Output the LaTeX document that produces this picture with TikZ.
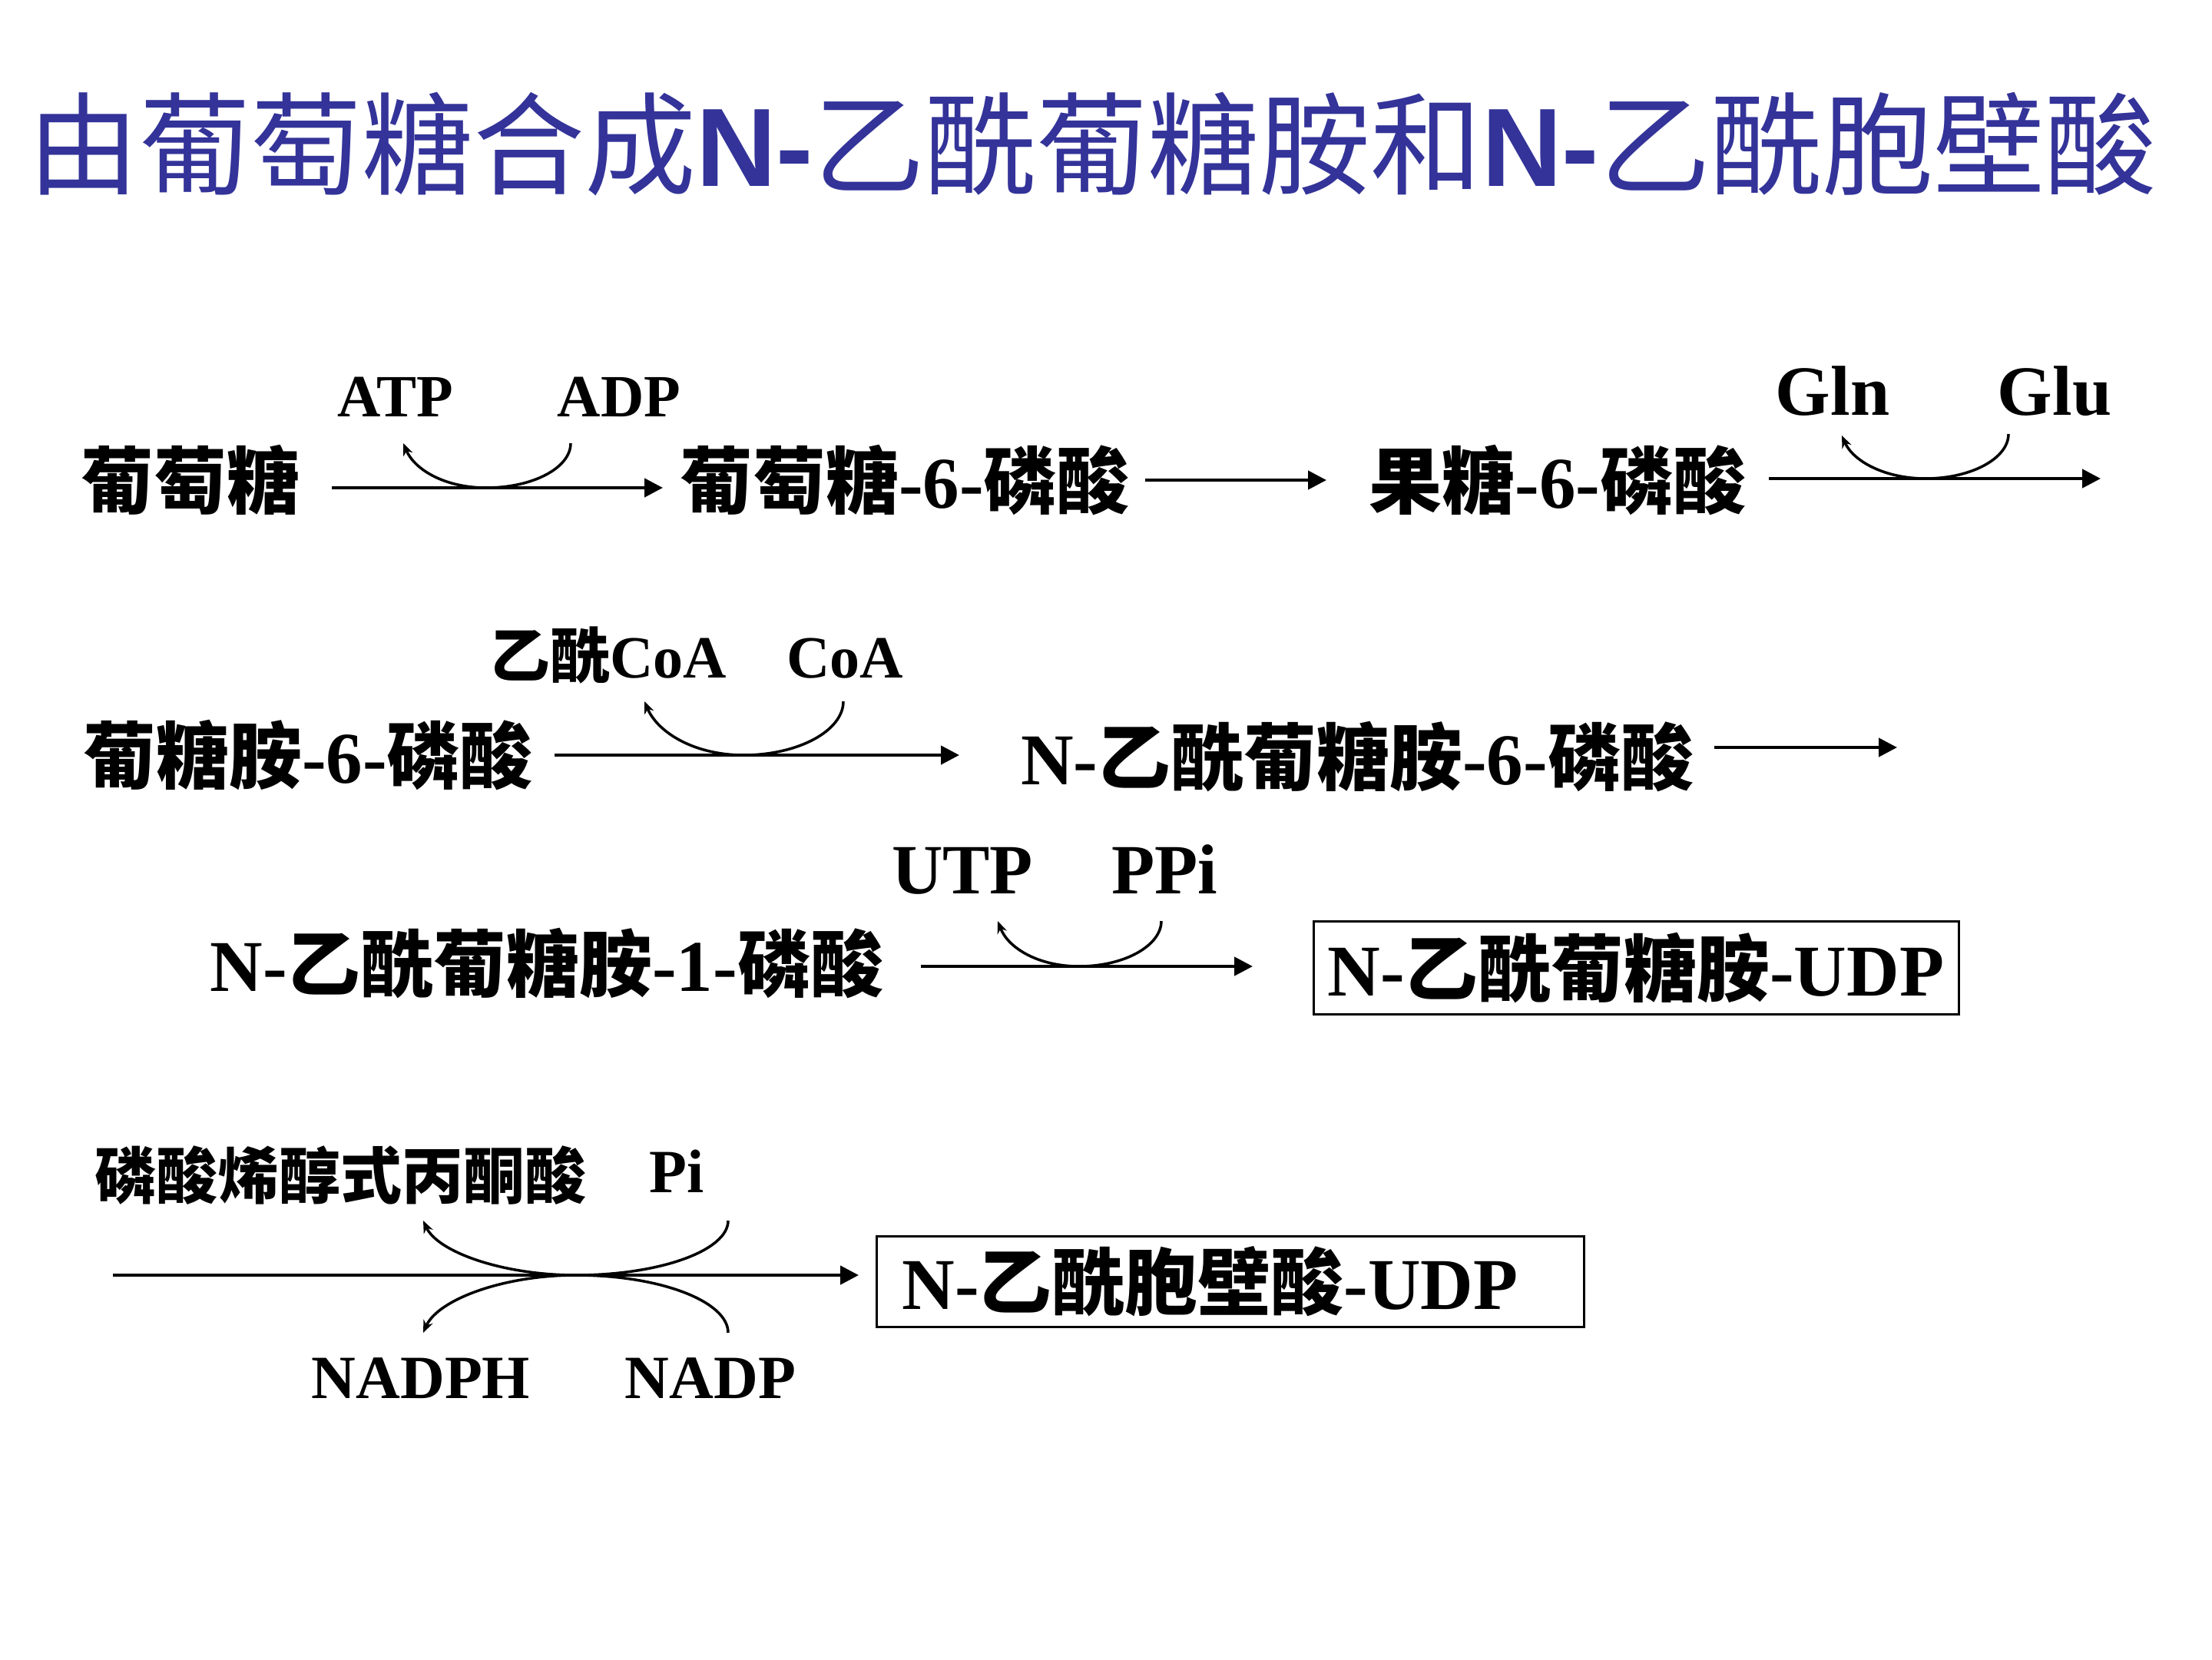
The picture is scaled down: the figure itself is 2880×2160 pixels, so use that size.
\documentclass[tikz,border=0pt]{standalone}
\usepackage{fontspec}
\setmainfont{Liberation Serif}[BoldFont={Liberation Serif Bold}]
\newfontfamily\latb{Liberation Serif Bold}
\newfontfamily\cjk{Noto Sans CJK SC}
\newfontfamily\titlelat{Liberation Sans Bold}
\newcommand\zh[1]{{\cjk\bfseries #1}}
\newcommand\zhtitle[1]{{\cjk #1}}
\usetikzlibrary{arrows.meta}
\definecolor{titleblue}{RGB}{51,51,153}
\tikzset{
  body/.style={inner sep=0pt, font=\fontsize{95}{100}\selectfont\latb},
  labA/.style={inner sep=0pt, anchor=base, font=\fontsize{78}{80}\selectfont\latb},
  labB/.style={inner sep=0pt, anchor=base, font=\fontsize{92}{96}\selectfont\latb},
  labC/.style={inner sep=0pt, anchor=base, font=\fontsize{80}{84}\selectfont\latb},
  pepfont/.style={inner sep=0pt, font=\fontsize{80}{84}\selectfont\latb},
  rxn/.style={line width=4.5pt, -{Triangle[length=24pt,width=24pt]}},
  cof/.style={line width=3.5pt, -{Stealth[length=16pt,width=13pt]}},
  prodbox/.style={draw, line width=3pt, inner sep=0pt, font=\fontsize{95}{100}\selectfont\latb}
}
\begin{document}
\begin{tikzpicture}[x=1pt,y=-1pt]
\useasboundingbox (0,0) rectangle (2880,2160);
% title
\node[inner sep=0pt, anchor=west, text=titleblue, font=\fontsize{145}{150}\selectfont] (title) at (36,188)
  {\zhtitle{由葡萄糖合成}{\titlelat N-}\zhtitle{乙酰葡糖胺和}{\titlelat N-}\zhtitle{乙酰胞壁酸}};

% row 1
\node[body] (glc) at (248,625) {\zh{葡萄糖}};
\node[labA] (atp) at (515,542) {ATP};
\node[labA] (adp) at (806,542) {ADP};
\node[body] (g6p) at (1178,625) {\zh{葡萄糖}-6-\zh{磷酸}};
\node[body] (f6p) at (2028,625) {\zh{果糖}-6-\zh{磷酸}};
\node[labB] (gln) at (2386,540) {Gln};
\node[labB] (glu) at (2675,540) {Glu};
\coordinate (a1s) at (432,635); \coordinate (a1e) at (863,635);
\coordinate (a2s) at (1491,625); \coordinate (a2e) at (1727,625);
\coordinate (a3s) at (2303,623); \coordinate (a3e) at (2735,623);
\draw[rxn] (a1s) -- (a1e);
\draw[rxn] (a2s) -- (a2e);
\draw[rxn] (a3s) -- (a3e);
\coordinate (c1a) at (743,577); \coordinate (c1m) at (633,635); \coordinate (c1b) at (525,577);
\draw[cof] (c1a) .. controls (743,609) and (694,635) .. (c1m) .. controls (580,635) and (540,612) .. (c1b);
\coordinate (c3a) at (2615,565); \coordinate (c3m) at (2507,623); \coordinate (c3b) at (2398,567);
\draw[cof] (c3a) .. controls (2615,597) and (2566,623) .. (c3m) .. controls (2455,623) and (2413,601) .. (c3b);

% row 2
\node[body] (gn6p) at (401,983) {\zh{葡糖胺}-6-\zh{磷酸}};
\node[labA] (accoa) at (792,882) {\zh{乙酰}CoA};
\node[labA] (coa) at (1100,882) {CoA};
\node[body] (nag6p) at (1767,985) {N-\zh{乙酰葡糖胺}-6-\zh{磷酸}};
\coordinate (b1s) at (722,983); \coordinate (b1e) at (1249,983);
\coordinate (b2s) at (2232,973); \coordinate (b2e) at (2470,973);
\draw[rxn] (b1s) -- (b1e);
\draw[rxn] (b2s) -- (b2e);
\coordinate (c2a) at (1098,913); \coordinate (c2m) at (968,983); \coordinate (c2b) at (839,913);
\draw[cof] (c2a) .. controls (1098,951) and (1040,983) .. (c2m) .. controls (906,983) and (857,955) .. (c2b);

% row 3
\node[body] (nag1p) at (712,1254) {N-\zh{乙酰葡糖胺}-1-\zh{磷酸}};
\node[labB] (utp) at (1253,1163) {UTP};
\node[labB] (ppi) at (1516,1163) {PPi};
\node[prodbox, minimum width=840pt, minimum height=121pt] (udpglc) at (2130,1260) {N-\zh{乙酰葡糖胺}-UDP};
\coordinate (d1s) at (1199,1258); \coordinate (d1e) at (1631,1258);
\draw[rxn] (d1s) -- (d1e);
\coordinate (c4a) at (1512,1199); \coordinate (c4m) at (1405,1258); \coordinate (c4b) at (1299,1199);
\draw[cof] (c4a) .. controls (1512,1231) and (1464,1258) .. (c4m) .. controls (1353,1258) and (1313,1235) .. (c4b);

% row 4
\node[pepfont] (pep) at (443,1530) {\zh{磷酸烯醇式丙酮酸}};
\node[labC] (pi) at (881,1552) {Pi};
\node[labC] (nadph) at (548,1820) {NADPH};
\node[labC] (nadp) at (925,1820) {NADP};
\node[prodbox, minimum height=118pt, text width=855pt, inner xsep=33pt, align=left] (udpmur) at (1602,1668) {N-\zh{乙酰胞壁酸}-UDP};
\coordinate (e1s) at (147,1660); \coordinate (e1e) at (1118,1660);
\draw[rxn] (e1s) -- (e1e);
\coordinate (c5a) at (948,1589); \coordinate (c5m) at (750,1660); \coordinate (c5b) at (551,1589);
\draw[cof] (c5a) .. controls (948,1628) and (859,1660) .. (c5m) .. controls (655,1660) and (570,1630) .. (c5b);
\coordinate (c6a) at (948,1735); \coordinate (c6b) at (551,1735);
\draw[cof] (c6a) .. controls (948,1694) and (859,1660) .. (c5m) .. controls (655,1660) and (570,1692) .. (c6b);
\end{tikzpicture}
\end{document}
